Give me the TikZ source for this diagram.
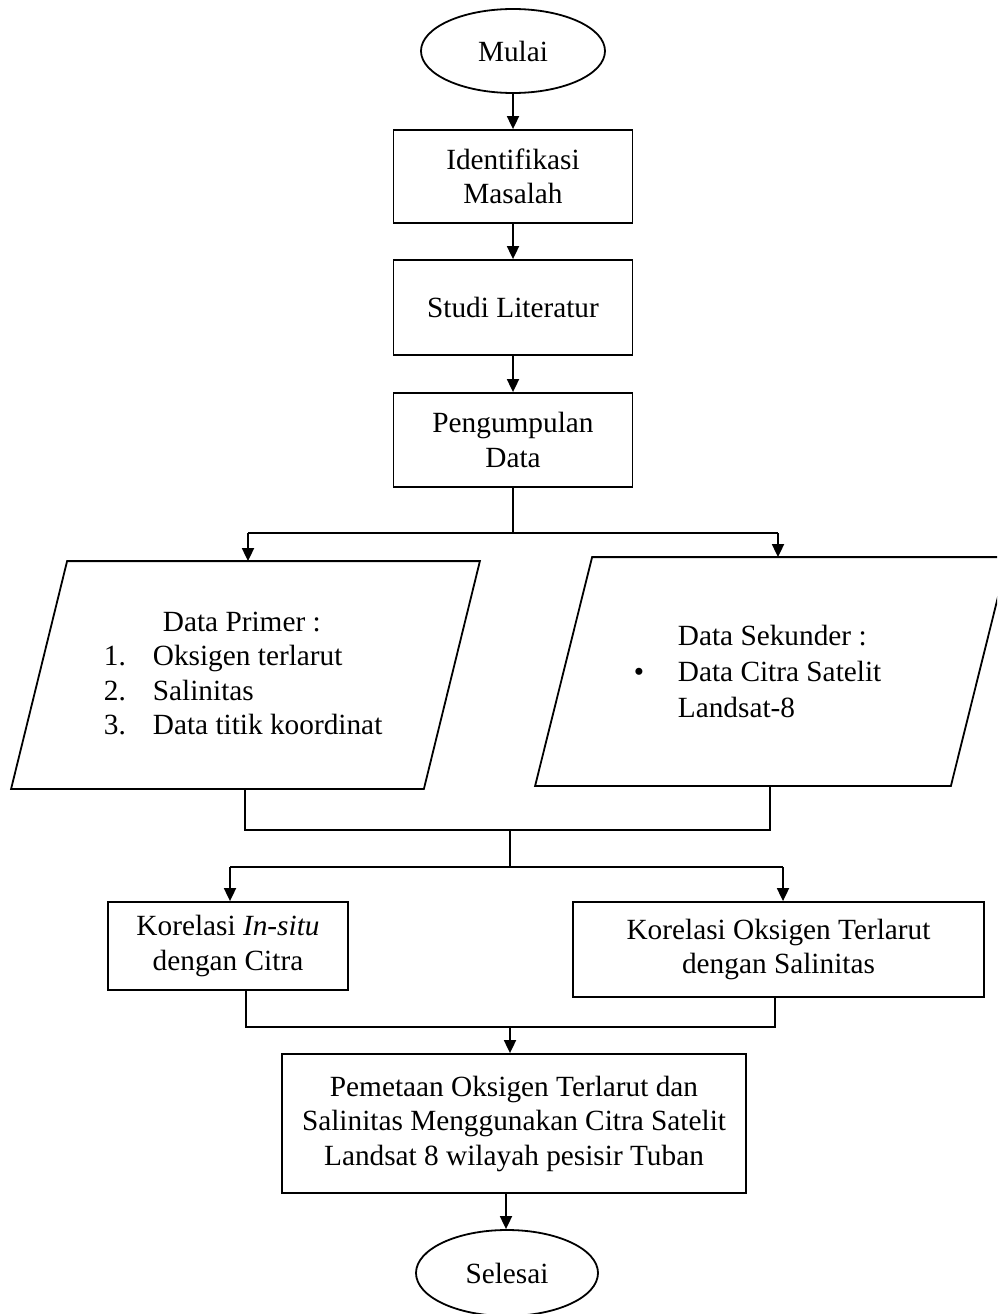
\documentclass[tikz,border=0pt]{standalone}
\usepackage{fontspec}
\setmainfont{Liberation Serif}
\usetikzlibrary{shapes.geometric,arrows.meta,calc}
\tikzset{
  lbl/.style={font=\fontsize{29.3}{34.5}\selectfont},
  procbox/.style={draw, rectangle, inner sep=2pt, align=center, lbl},
  termoval/.style={draw, ellipse, inner sep=0pt, lbl},
  area/.style={rectangle, inner sep=0pt},
  txt/.style={inner sep=0pt, align=left, lbl},
  arr/.style={-{Triangle[length=13pt,width=12pt]}},
}
\begin{document}
\begin{tikzpicture}[x=1pt, y=-1pt, line width=1.8pt]
\useasboundingbox (0,0) rectangle (997,1314);
\clip (0,0) rectangle (997,1314);

% terminals and process boxes
\node[termoval, minimum width=184pt, minimum height=84pt] (mulai) at (513,51) {Mulai};
\node[procbox, minimum width=239pt, minimum height=93pt] (ident) at (513,176.5) {Identifikasi\\Masalah};
\node[procbox, minimum width=239pt, minimum height=95pt] (studi) at (513,307.5) {Studi Literatur};
\node[procbox, minimum width=239pt, minimum height=94pt] (kumpul) at (513,440) {Pengumpulan\\Data};

% data parallelograms
\node[area, minimum width=467pt, minimum height=226pt] (primer) at (245.5,675) {};
\draw (primer.south west) -- ($(primer.north west)+(56,0)$) -- (primer.north east)
      -- ($(primer.south east)+(-56,0)$) -- cycle;
\node[txt, anchor=west] (primertext) at (103,673.5)
  {\hspace*{59pt}Data Primer :\\
   \makebox[49pt][l]{1.}Oksigen terlarut\\
   \makebox[49pt][l]{2.}Salinitas\\
   \makebox[49pt][l]{3.}Data titik koordinat};

\node[area, minimum width=471pt, minimum height=227pt] (sekunder) at (771.5,671.5) {};
\draw (sekunder.south west) -- ($(sekunder.north west)+(57,0)$) -- (sekunder.north east)
      -- ($(sekunder.south east)+(-57,0)$) -- cycle;
\node[txt, anchor=west] (sekundertext) at (633,671)
  {\hspace*{44pt}Data Sekunder :\\[1.5pt]
   \makebox[44pt][l]{\textbullet}Data Citra Satelit\\[1.5pt]
   \hspace*{44pt}Landsat-8};

% correlation boxes
\node[procbox, minimum width=240pt, minimum height=88pt] (korA) at (228,946) {Korelasi \textit{In-situ}\\dengan Citra};
\node[procbox, minimum width=411pt, minimum height=95pt] (korB) at (778.5,949.5) {Korelasi Oksigen Terlarut\\dengan Salinitas};

% mapping box and end
\node[procbox, minimum width=464pt, minimum height=139pt] (peta) at (514,1123.5)
  {Pemetaan Oksigen Terlarut dan\\Salinitas Menggunakan Citra Satelit\\Landsat 8 wilayah pesisir Tuban};
\node[termoval, minimum width=182pt, minimum height=86pt] (selesai) at (507,1273) {Selesai};

% junction coordinates
\coordinate (sL) at (248,533);
\coordinate (sR) at (778,533);
\coordinate (mL) at (245,830);
\coordinate (mR) at (770,830);
\coordinate (mC) at (510,830);
\coordinate (dC) at (510,867);
\coordinate (dL) at (230,867);
\coordinate (dR) at (783,867);
\coordinate (bL) at (246,1027);
\coordinate (bR) at (775,1027);
\coordinate (bC) at (510,1027);
\coordinate (eC) at (506,1193);

% connectors
\draw[arr] (mulai.south) -- (ident.north);
\draw[arr] (ident.south) -- (studi.north);
\draw[arr] (studi.south) -- (kumpul.north);
\draw (kumpul.south) -- (kumpul.south |- sL);
\draw (sL) -- (sR);
\draw[arr] (sL) -- (sL |- primer.north);
\draw[arr] (sR) -- (sR |- sekunder.north);

\draw (mL |- primer.south) -- (mL) -- (mR) -- (mR |- sekunder.south);
\draw (mC) -- (dC);
\draw (dL) -- (dR);
\draw[arr] (dL) -- (dL |- korA.north);
\draw[arr] (dR) -- (dR |- korB.north);

\draw (bL |- korA.south) -- (bL) -- (bR) -- (bR |- korB.south);
\draw[arr] (bC) -- (bC |- peta.north);
\draw[arr] (eC |- peta.south) -- (eC |- selesai.north);
\end{tikzpicture}
\end{document}
